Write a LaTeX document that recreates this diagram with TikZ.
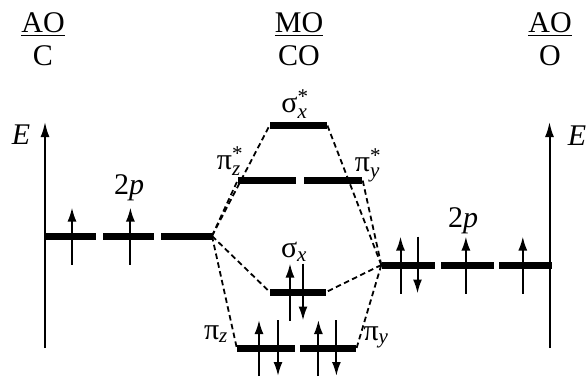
\documentclass[tikz,border=0pt]{standalone}
\usepackage{fontspec}
\usepackage{amsmath}
\setmainfont{Liberation Serif}
\usetikzlibrary{positioning,arrows.meta}
\newcommand{\orb}[2]{$\text{#1}_{\textit{#2}}$}
\newcommand{\orbs}[2]{$\text{#1}^{\text{*}}_{\textit{#2}}$}

\begin{document}
\begin{tikzpicture}[x=1pt, y=1pt, font=\fontsize{30}{33}\selectfont,
  lvl/.style={fill=black, inner sep=0pt, minimum height=7pt, minimum width=51pt},
  link/.style={line width=1.8pt, dash pattern=on 5.5pt off 3.5pt},
  axis/.style={line width=2pt, -{Latex[length=15pt,width=9pt]}},
  spin/.style={line width=2pt, -{Latex[length=14pt,width=9pt]}},
  lab/.style={inner sep=0pt}]
\useasboundingbox (0,0) rectangle (587,376);
% headers
\node[lab, align=center, anchor=north] (hc) at (43,364) {\underline{A}\underline{O}\\C};
\node[lab, align=center, anchor=north] (hco) at (299,364) {\underline{M}\underline{O}\\CO};
\node[lab, align=center, anchor=north] (ho) at (550,364) {\underline{A}\underline{O}\\O};
% energy axes
\coordinate (la0) at (45,28);
\coordinate (la1) at (45,254);
\coordinate (ra0) at (549.5,28);
\coordinate (ra1) at (549.5,254);
\draw[axis] (la0) -- (la1);
\draw[axis] (ra0) -- (ra1);
\node[lab] (el) at (21,241) {\textit{E}};
\node[lab] (er) at (577,240) {\textit{E}};
% C 2p
\node[lvl] (c1) at (70.5,140) {};
\node[lvl, right=7pt of c1] (c2) {};
\node[lvl, right=6pt of c2] (c3) {};
% O 2p
\node[lvl, minimum width=53pt] (o1) at (408,111) {};
\node[lvl, minimum width=53pt, right=6pt of o1] (o2) {};
\node[lvl, minimum width=53pt, right=5pt of o2] (o3) {};
% MO levels
\node[lvl, minimum width=57pt] (sxs) at (298.5,251) {};
\node[lvl, minimum width=58pt] (pzs) at (267,196) {};
\node[lvl, minimum width=58pt, right=8pt of pzs] (pys) {};
\node[lvl, minimum width=56pt] (sx) at (298,84) {};
\node[lvl, minimum width=58pt] (pz) at (266,28) {};
\node[lvl, minimum width=56pt, right=5pt of pz] (py) {};
% labels
\node[lab] (lc) at (129,188) {2\textit{p}};
\node[lab] (lo) at (463,155) {2\textit{p}};
\node[lab] (lsxs) at (295,271.5) {\orbs{σ}{x}};
\node[lab] (lpzs) at (230,214.5) {\orbs{π}{z}};
\node[lab] (lpys) at (368,211) {\orbs{π}{y}};
\node[lab] (lsx) at (294,124) {\orb{σ}{x}};
\node[lab] (lpz) at (216,42) {\orb{π}{z}};
\node[lab] (lpy) at (376,38.5) {\orb{π}{y}};
% correlation lines
\draw[link] (c3.east) -- (sxs.west);
\draw[link] (c3.east) -- (pzs.west);
\draw[link] (c3.east) -- (sx.west);
\draw[link] (c3.east) -- (pz.west);
\draw[link] (o1.west) -- (sxs.east);
\draw[link] (o1.west) -- (pys.east);
\draw[link] (o1.west) -- (sx.east);
\draw[link] (o1.west) -- (py.east);
% electrons
\draw[spin] ([xshift=1.5pt,yshift=-28.5pt]c1.center) -- ++(0,57);
\draw[spin] ([xshift=1.5pt,yshift=-28.5pt]c2.center) -- ++(0,57);
\draw[spin] ([xshift=-7.5pt,yshift=-28.5pt]o1.center) -- ++(0,57);
\draw[spin] ([xshift=9.5pt,yshift=28.5pt]o1.center) -- ++(0,-57);
\draw[spin] ([xshift=-1.5pt,yshift=-28.5pt]o2.center) -- ++(0,57);
\draw[spin] ([xshift=-3pt,yshift=-28.5pt]o3.center) -- ++(0,57);
\draw[spin] ([xshift=-8pt,yshift=-28.5pt]sx.center) -- ++(0,57);
\draw[spin] ([xshift=5pt,yshift=28.5pt]sx.center) -- ++(0,-57);
\draw[spin] ([xshift=-7pt,yshift=-28pt]pz.center) -- ++(0,56);
\draw[spin] ([xshift=12pt,yshift=28pt]pz.center) -- ++(0,-56);
\draw[spin] ([xshift=-10pt,yshift=-28pt]py.center) -- ++(0,56);
\draw[spin] ([xshift=8pt,yshift=28pt]py.center) -- ++(0,-56);
\end{tikzpicture}
\end{document}
